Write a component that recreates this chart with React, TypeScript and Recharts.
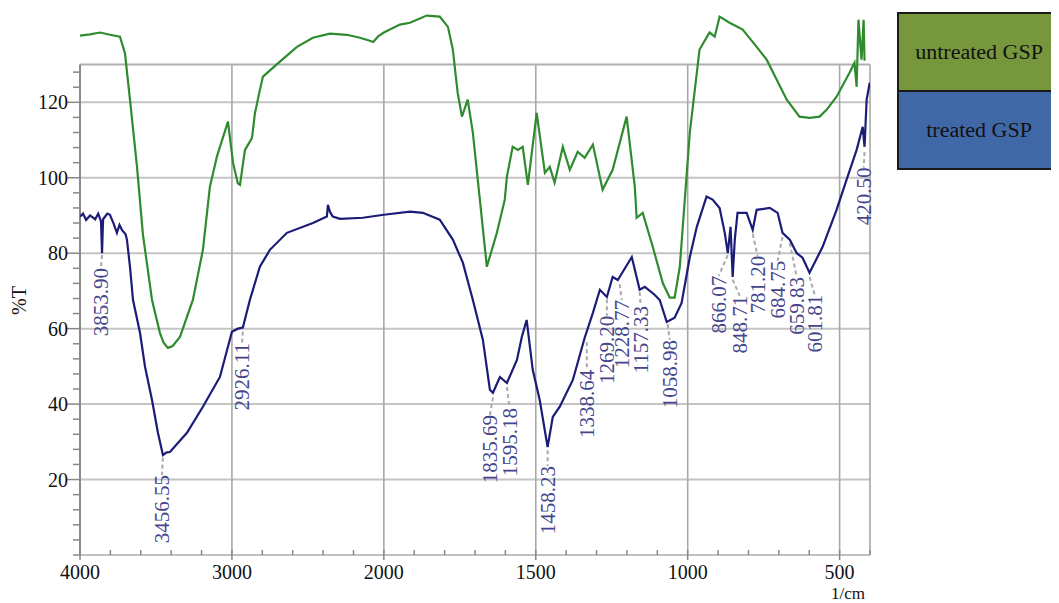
import React from "react";
import { LineChart, Line, XAxis, YAxis, ReferenceLine, ReferenceDot } from "recharts";

// FTIR transmittance (%T), wavenumber in 1/cm
const untreatedWave = [4000, 3934, 3868, 3803, 3737, 3704, 3671, 3625, 3586, 3526, 3474, 3450, 3421, 3390, 3342, 3257, 3191, 3145, 3099, 3026, 2993, 2961, 2947, 2914, 2868, 2849, 2816, 2796, 2684, 2572, 2467, 2355, 2243, 2158, 2092, 2070, 2039, 2000, 1947, 1914, 1859, 1816, 1789, 1773, 1757, 1743, 1724, 1707, 1684, 1661, 1628, 1602, 1595, 1576, 1559, 1543, 1526, 1497, 1470, 1454, 1438, 1411, 1388, 1362, 1339, 1312, 1280, 1247, 1201, 1174, 1168, 1148, 1115, 1082, 1059, 1043, 1026, 993, 961, 928, 911, 895, 862, 819, 773, 740, 707, 674, 632, 599, 566, 543, 510, 467, 451, 444, 438, 428, 421, 418];
const untreatedT = [137.7, 138.0, 138.5, 137.9, 137.4, 133.0, 120.7, 103.0, 85.0, 67.6, 58.9, 56.3, 54.9, 55.4, 57.8, 67.6, 80.9, 97.6, 105.6, 114.9, 104, 98.5, 98.1, 107.4, 110.5, 117, 123.3, 126.8, 130.8, 134.7, 137.1, 138.2, 137.9, 137.1, 136.3, 136.0, 137.4, 138.5, 140.6, 141.1, 143, 142.7, 140, 134, 122.5, 116.2, 120.7, 111.9, 94.2, 76.4, 85.4, 94.2, 100.3, 108.2, 107.4, 108.2, 98.1, 117.2, 101.3, 102.9, 98.7, 108.2, 102.1, 106.9, 105.3, 108.8, 96.8, 102.1, 116.2, 97.6, 89.4, 90.7, 81.7, 72.1, 68.2, 68.2, 76.4, 112, 134, 138.5, 137.4, 142.7, 141.1, 139.3, 134.7, 131.3, 126, 120.7, 116.2, 115.9, 116.2, 118, 121.5, 127.9, 130.5, 124.1, 141.9, 131.3, 141.9, 131];

const treatedWave = [4000, 3980, 3960, 3934, 3900, 3880, 3862, 3855, 3848, 3820, 3803, 3780, 3757, 3740, 3724, 3700, 3691, 3671, 3651, 3605, 3572, 3526, 3487, 3454, 3430, 3408, 3296, 3191, 3079, 3000, 2960, 2928, 2882, 2816, 2750, 2638, 2467, 2375, 2368, 2355, 2336, 2289, 2138, 2000, 1914, 1872, 1816, 1773, 1740, 1707, 1674, 1651, 1641, 1618, 1595, 1562, 1546, 1530, 1510, 1487, 1461, 1444, 1421, 1378, 1339, 1312, 1289, 1266, 1247, 1230, 1184, 1158, 1141, 1109, 1092, 1069, 1043, 1020, 993, 970, 938, 918, 895, 878, 868, 859, 852, 845, 836, 806, 786, 773, 730, 704, 688, 664, 641, 622, 599, 556, 510, 477, 444, 424, 418, 411, 401];
const treatedT = [89.7, 90.5, 88.8, 90, 89, 90.5, 88.5, 80, 89, 90.5, 90.2, 88, 85.4, 87.5, 86.2, 85, 83.6, 76.4, 67.6, 58.9, 49.9, 41.1, 32.4, 26.5, 27.2, 27.3, 32.4, 39.3, 47.2, 59.2, 60, 60.3, 67.6, 76.4, 80.9, 85.4, 88, 89.7, 92.8, 91, 89.7, 89.1, 89.4, 90.2, 91, 90.7, 88.9, 83.6, 77.5, 67.6, 57, 43.8, 43, 47.2, 45.6, 51.7, 57.8, 62.3, 49.1, 41.1, 28.6, 36.6, 39.3, 46.4, 57.6, 64.2, 70.3, 68.4, 73.7, 72.9, 79, 70.3, 71.1, 69, 67.6, 61.8, 62.9, 66.8, 79, 87, 95, 94.2, 92, 85.4, 80, 87, 73.7, 83.6, 90.7, 90.7, 86.2, 91.5, 92, 90.7, 85.4, 83.6, 80, 78.8, 74.8, 81.7, 91.5, 99.5, 107.4, 113.5, 108.2, 120.7, 125.2];

// peak annotations on the treated spectrum
const peakLabels = ["3853.90", "3456.55", "2926.11", "1835.69", "1595.18", "1458.23", "1338.64", "1269.20", "1228.77", "1157.33", "1058.98", "866.07", "848.71", "781.20", "684.75", "659.83", "601.81", "420.50"];
const peakWave = [3855, 3454, 2928, 1641, 1595, 1461, 1332, 1266, 1224, 1158, 1066, 868, 852, 786, 688, 664, 599, 418];
const peakT = [79.5, 25.8, 59.2, 41.8, 44.5, 27.8, 56.4, 67.8, 71.8, 69.7, 61.2, 79.5, 73, 85.1, 84.3, 82.7, 73.7, 106.8];
const labelWave = [3862, 3461, 2934, 1651, 1586, 1461, 1332, 1266, 1217, 1155, 1059, 898, 829, 770, 704, 641, 582, 421];
const labelT = [76.1, 21.2, 56.2, 37.1, 39, 23.6, 49.1, 63.4, 67.6, 66, 57, 74, 68.7, 79.3, 78, 73.7, 69, 102.7];

const xTickWaves = [4000, 3000, 2000, 1500, 1000, 500];
const yTickValues = [20, 40, 60, 80, 100, 120];

// the x axis changes scale at 2000: 1000 per unit above, 500 per unit below
const toPos = (w: number) => (w >= 2000 ? (4000 - w) / 1000 : 2 + (2000 - w) / 500);
const toWave = (p: number) => (p <= 2 ? 4000 - p * 1000 : 2000 - (p - 2) * 500);

const X_MAX = toPos(400);
const FRAME_TOP = 130;

const untreatedData = untreatedWave.map((w, i) => ({ p: toPos(w), t: untreatedT[i] }));
const treatedData = treatedWave.map((w, i) => ({ p: toPos(w), t: treatedT[i] }));

const xMinorTicks = Array.from({ length: 27 }, (_, i) => Math.round(i * 20) / 100);
const yMinorTicks = Array.from({ length: 33 }, (_, i) => i * 4);

const SERIF = "'Liberation Serif', 'Times New Roman', serif";
const GREEN = "#2e8b2e";
const NAVY = "#1c1c78";
const LABEL = "#45458c";

const XTick = (props: any) => {
  const { x, y, payload } = props;
  const w = Math.round(toWave(payload.value));
  const major = xTickWaves.includes(w);
  return (
    <g>
      <line x1={x} x2={x} y1={y - 5} y2={y + (major ? 5 : 0)} stroke="#888" strokeWidth={1.5} />
      {major && (
        <text x={x} y={y + 24} textAnchor="middle" fontFamily={SERIF} fontSize={20} fill="#111">
          {w}
        </text>
      )}
    </g>
  );
};

const YTick = (props: any) => {
  const { x, y, payload } = props;
  if (payload.value > FRAME_TOP) return <g />;
  const major = yTickValues.includes(payload.value);
  return (
    <g>
      <line x1={x - (major ? 13 : 7)} x2={x} y1={y} y2={y} stroke="#888" strokeWidth={1.5} />
      {major && (
        <text x={x - 12} y={y} dy="0.35em" textAnchor="end" fontFamily={SERIF} fontSize={20} fill="#111">
          {payload.value}
        </text>
      )}
    </g>
  );
};

const YLabel = (props: any) => {
  const { x, y, height } = props.viewBox;
  const cx = x - 1;
  const cy = y + height / 2 + 19;
  return (
    <text x={cx} y={cy} transform={`rotate(-90 ${cx} ${cy})`} textAnchor="middle" dominantBaseline="central" fontFamily={SERIF} fontSize={20} fill="#111">
      %T
    </text>
  );
};

const XLabel = (props: any) => {
  const { x, y, width } = props.viewBox;
  return (
    <text x={x + width - 5} y={y + 43.5} textAnchor="end" fontFamily={SERIF} fontSize={17} fill="#111">
      1/cm
    </text>
  );
};

const peakText = (text: string) => (props: any) => {
  const { cx, cy } = props;
  return (
    <text x={cx} y={cy} transform={`rotate(-90 ${cx} ${cy})`} textAnchor="end" dominantBaseline="central" fontFamily={SERIF} fontSize={21} fill={LABEL}>
      {text}
    </text>
  );
};

const legendText: React.CSSProperties = {
  height: 76,
  display: "flex",
  alignItems: "center",
  justifyContent: "center",
  fontFamily: SERIF,
  fontSize: 20,
  color: "#111",
};

export default function App() {
  return (
    <div style={{ position: "relative", width: 1043, height: 595 }}>
      <LineChart width={1043} height={595} margin={{ top: 0, right: 181, bottom: 0, left: 12 }}>
        <XAxis
          type="number"
          dataKey="p"
          domain={[0, X_MAX]}
          ticks={xMinorTicks}
          interval={0}
          tick={XTick}
          tickLine={false}
          axisLine={false}
          tickSize={0}
          tickMargin={0}
          height={48}
          allowDataOverflow
          label={{ content: XLabel }}
        />
        <YAxis
          type="number"
          domain={[0, 145]}
          ticks={yMinorTicks}
          interval={0}
          tick={YTick}
          tickLine={false}
          axisLine={false}
          tickSize={0}
          tickMargin={0}
          width={60}
          label={{ content: YLabel }}
        />

        {/* grid and frame */}
        {yTickValues.map((v) => (
          <ReferenceLine key={`h${v}`} segment={[{ x: 0, y: v }, { x: X_MAX, y: v }]} stroke="#c4c4c4" strokeWidth={2} ifOverflow="visible" />
        ))}
        {xTickWaves.slice(1).map((w) => (
          <ReferenceLine key={`v${w}`} segment={[{ x: toPos(w), y: 0 }, { x: toPos(w), y: FRAME_TOP }]} stroke="#a8a8a8" strokeWidth={1.6} ifOverflow="visible" />
        ))}
        <ReferenceLine segment={[{ x: 0, y: FRAME_TOP }, { x: X_MAX, y: FRAME_TOP }]} stroke="#b0b0b0" strokeWidth={2} ifOverflow="visible" />
        <ReferenceLine segment={[{ x: X_MAX, y: 0 }, { x: X_MAX, y: FRAME_TOP }]} stroke="#a8a8a8" strokeWidth={1.6} ifOverflow="visible" />
        <ReferenceLine segment={[{ x: 0, y: 0 }, { x: X_MAX, y: 0 }]} stroke="#c0c0c0" strokeWidth={2} ifOverflow="visible" />
        <ReferenceLine segment={[{ x: 0, y: 0 }, { x: 0, y: FRAME_TOP }]} stroke="#8a8a8a" strokeWidth={2} ifOverflow="visible" />

        {/* leader lines */}
        {peakLabels.map((lab, i) => (
          <ReferenceLine
            key={`l${lab}`}
            segment={[{ x: toPos(peakWave[i]), y: peakT[i] }, { x: toPos(labelWave[i]), y: labelT[i] }]}
            stroke="#aaaaaa"
            strokeWidth={2}
            strokeDasharray="4 3"
            ifOverflow="visible"
          />
        ))}

        <Line data={untreatedData} dataKey="t" type="linear" stroke={GREEN} strokeWidth={2.2} dot={false} isAnimationActive={false} />
        <Line data={treatedData} dataKey="t" type="linear" stroke={NAVY} strokeWidth={2.2} dot={false} isAnimationActive={false} />

        {peakLabels.map((lab, i) => (
          <ReferenceDot key={`t${lab}`} x={toPos(labelWave[i])} y={labelT[i]} r={0} ifOverflow="visible" shape={peakText(lab)} />
        ))}
      </LineChart>

      <div style={{ position: "absolute", left: 889, top: 4, width: 160, borderTop: "2px solid #1a1a1a", borderLeft: "2px solid #1a1a1a", borderBottom: "2px solid #1a1a1a" }}>
        <div style={{ ...legendText, background: "#77973d", borderBottom: "2px solid #1a1a1a" }}>
          <span style={{ display: "inline-block", transform: "scaleX(1.1)" }}>untreated GSP</span>
        </div>
        <div style={{ ...legendText, background: "#4168a6" }}>
          <span style={{ display: "inline-block", transform: "scaleX(1.1)" }}>treated GSP</span>
        </div>
      </div>
    </div>
  );
}
